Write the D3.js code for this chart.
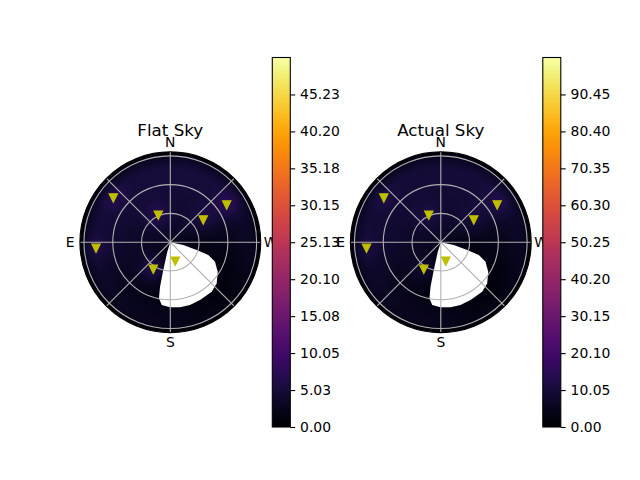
<!DOCTYPE html>
<html><head><meta charset="utf-8">
<script src="https://cdn.jsdelivr.net/npm/d3@7"></script>
<style>body{margin:0;background:#fff}svg{display:block}text{font-family:"DejaVu Sans",sans-serif;fill:#000}</style>
</head><body>
<svg id="chart" width="640" height="480"></svg>
<script>
// ---------------- data ----------------
const panelTitles = ["Flat Sky", "Actual Sky"];
const compassLabels = ["N", "E", "S", "W"];
const compassAz = [0, 90, 180, 270];
const spokeAz = [0, 45, 90, 135, 180, 225, 270, 315];
const ringZen = [0.5, 1.0, 1.5];
const zenMax = Math.PI / 2;

// marker positions (azimuth deg, zenith rad)
const markerAz  = [52.2, 24.0, 304.0, 303.4, 94.7, 147.9, 194.7];
const markerZen = [1.253, 0.512, 0.691, 1.174, 1.295, 0.556, 0.343];

// masked (no data) region boundary
const maskAz  = [0, 257.8, 253.5, 251.4, 246.4, 238.1, 228.5, 219.9, 207.2, 197.4, 188.5, 179.7, 172.2, 168.6, 167.0, 165.9, 162.5];
const maskZen = [0, 0.231, 0.478, 0.697, 0.848, 0.970, 1.077, 1.121, 1.129, 1.143, 1.143, 1.131, 1.101, 0.994, 0.794, 0.498, 0.173];

// coarse sky field (rows: azimuth gridAz, cols: zenith gridZen)
const gridAz  = [0, 45, 90, 135, 180, 225, 270, 315];
const gridZen = [0, 0.5, 1.0, 1.3, 1.45, 1.571];
const flatField = [
  [3.0, 4.0, 5.0, 5.0, 3.5, 0.3],
  [3.0, 4.2, 5.0, 5.0, 3.5, 0.3],
  [2.5, 3.5, 4.2, 4.8, 3.5, 0.3],
  [2.0, 2.5, 2.5, 3.0, 2.8, 0.3],
  [1.2, 1.2, 1.5, 2.5, 2.5, 0.3],
  [1.0, 0.8, 0.8, 1.2, 1.8, 0.3],
  [2.0, 2.0, 2.2, 3.0, 3.0, 0.3],
  [3.0, 4.0, 4.8, 5.0, 3.5, 0.3]
];
const actualField = [
  [6.5, 8.5, 9.5, 9.5, 7.0, 0.6],
  [6.5, 8.5, 9.5, 9.5, 7.0, 0.6],
  [5.5, 7.0, 8.5, 9.5, 7.0, 0.6],
  [4.0, 5.0, 5.0, 6.0, 5.5, 0.6],
  [2.5, 2.5, 3.0, 5.0, 5.0, 0.6],
  [2.0, 1.6, 1.6, 2.4, 3.6, 0.6],
  [4.0, 4.0, 4.4, 6.0, 6.0, 0.6],
  [6.0, 8.0, 9.5, 10.0, 7.5, 0.6]
];
// extra brightness around each marker
const flatGlow   = [1.5, 2.5, 2.0, 3.0, 1.5, 4.0, 1.0];
const actualGlow = [2.0, 3.0, 2.5, 4.0, 2.0, 4.0, 1.5];

const flatMax = 50.253, actualMax = 100.506;
const flatTicks = [0, 5.0253, 10.0506, 15.0759, 20.1012, 25.1265, 30.1518, 35.1771, 40.2024, 45.2277];
const flatTickLabels = ["0.00","5.03","10.05","15.08","20.10","25.13","30.15","35.18","40.20","45.23"];
const actualTicks = [0, 10.0506, 20.1012, 30.1518, 40.2024, 50.253, 60.3036, 70.3542, 80.4048, 90.4554];
const actualTickLabels = ["0.00","10.05","20.10","30.15","40.20","50.25","60.30","70.35","80.40","90.45"];

// ---------------- layout ----------------
const panels = [
  {title: panelTitles[0], cx: 170.3, cy: 242.2, field: flatField, glow: flatGlow, vmax: flatMax, ticks: flatTicks, labels: flatTickLabels, cbx: 272.3},
  {title: panelTitles[1], cx: 440.8, cy: 242.2, field: actualField, glow: actualGlow, vmax: actualMax, ticks: actualTicks, labels: actualTickLabels, cbx: 542.8}
];
const R = 90.4, cbW = 18, cbTop = 57.5, cbBot = 427;
const glowSigma = 0.16;

const svg = d3.select("#chart");
const defs = svg.append("defs");

function fieldValue(field, glow, az, zen) {
  const a = ((az % 360) + 360) % 360;
  const i0 = Math.floor(a / 45) % 8, i1 = (i0 + 1) % 8;
  const fa = (a - i0 * 45) / 45;
  let j = 0;
  while (j < gridZen.length - 2 && zen > gridZen[j + 1]) j++;
  const fz = Math.max(0, Math.min(1, (zen - gridZen[j]) / (gridZen[j + 1] - gridZen[j])));
  const v0 = field[i0][j] * (1 - fz) + field[i0][j + 1] * fz;
  const v1 = field[i1][j] * (1 - fz) + field[i1][j + 1] * fz;
  let v = v0 * (1 - fa) + v1 * fa;
  const x = -zen * Math.sin(a * Math.PI / 180), y = -zen * Math.cos(a * Math.PI / 180);
  for (let k = 0; k < markerAz.length; k++) {
    const ma = markerAz[k] * Math.PI / 180;
    const mx = -markerZen[k] * Math.sin(ma), my = -markerZen[k] * Math.cos(ma);
    const d2 = (x - mx) ** 2 + (y - my) ** 2;
    v += glow[k] * Math.exp(-d2 / (2 * glowSigma * glowSigma));
  }
  return v;
}

panels.forEach((p, pi) => {
  const color = d3.scaleSequential(d3.interpolateInferno).domain([0, p.vmax]);
  const rScale = d3.scaleLinear().domain([0, zenMax]).range([0, R]);
  const proj = (az, zen) => {
    const a = az * Math.PI / 180, r = rScale(zen);
    return [p.cx - r * Math.sin(a), p.cy - r * Math.cos(a)];
  };
  const g = svg.append("g");

  // heatmap raster
  const N = Math.ceil(2 * R);
  const canvas = document.createElement("canvas");
  canvas.width = N; canvas.height = N;
  const ctx = canvas.getContext("2d");
  const img = ctx.createImageData(N, N);
  for (let py = 0; py < N; py++) {
    for (let px = 0; px < N; px++) {
      const x = px + 0.5 - N / 2, y = py + 0.5 - N / 2;
      const r = Math.sqrt(x * x + y * y);
      if (r > R + 1) continue;
      const zen = rScale.invert(Math.min(r, R));
      const az = Math.atan2(-x, -y) * 180 / Math.PI;
      const c = d3.rgb(color(fieldValue(p.field, p.glow, az, zen)));
      const idx = (py * N + px) * 4;
      img.data[idx] = c.r; img.data[idx + 1] = c.g; img.data[idx + 2] = c.b; img.data[idx + 3] = 255;
    }
  }
  ctx.putImageData(img, 0, 0);
  const clipId = "clip" + pi;
  defs.append("clipPath").attr("id", clipId).append("circle").attr("cx", p.cx).attr("cy", p.cy).attr("r", R);
  g.append("image").attr("href", canvas.toDataURL())
    .attr("x", p.cx - N / 2).attr("y", p.cy - N / 2).attr("width", N).attr("height", N)
    .attr("clip-path", `url(#${clipId})`);

  // masked region
  const maskPts = maskAz.map((a, i) => proj(a, maskZen[i]));
  g.append("path").attr("d", d3.line().curve(d3.curveLinearClosed)(maskPts)).attr("fill", "#fff");

  // grid
  g.selectAll(".ring").data(ringZen).join("circle")
    .attr("cx", p.cx).attr("cy", p.cy).attr("r", d => rScale(d))
    .attr("fill", "none").attr("stroke", "#b0b0b0").attr("stroke-width", 1.1);
  g.selectAll(".spoke").data(spokeAz).join("line")
    .attr("x1", p.cx).attr("y1", p.cy)
    .attr("x2", d => proj(d, zenMax)[0]).attr("y2", d => proj(d, zenMax)[1])
    .attr("stroke", "#b0b0b0").attr("stroke-width", 1.1);
  g.append("circle").attr("cx", p.cx).attr("cy", p.cy).attr("r", R)
    .attr("fill", "none").attr("stroke", "#000").attr("stroke-width", 1.1);

  // markers
  const s = 4.17;
  g.selectAll(".mk").data(markerAz.map((a, i) => proj(a, markerZen[i]))).join("path")
    .attr("d", d => `M${d[0]},${d[1] + s}L${d[0] - s},${d[1] - s}L${d[0] + s},${d[1] - s}Z`)
    .attr("fill", "#bfbf00").attr("stroke", "#bfbf00").attr("stroke-width", 1.2).attr("stroke-linejoin", "miter");

  // compass labels
  compassLabels.forEach((lab, i) => {
    const a = compassAz[i] * Math.PI / 180, rr = R + 9.8;
    g.append("text").attr("x", p.cx - rr * Math.sin(a)).attr("y", p.cy - rr * Math.cos(a) + 0.365 * 13.9)
      .attr("text-anchor", "middle").attr("font-size", 13.9).text(lab);
  });

  // title
  g.append("text").attr("x", p.cx).attr("y", 136).attr("text-anchor", "middle").attr("font-size", 16.7).text(p.title);

  // colorbar
  const gradId = "grad" + pi;
  const grad = defs.append("linearGradient").attr("id", gradId).attr("x1", 0).attr("y1", 1).attr("x2", 0).attr("y2", 0);
  d3.range(0, 1.0001, 0.02).forEach(t => grad.append("stop").attr("offset", t).attr("stop-color", d3.interpolateInferno(t)));
  const cb = svg.append("g");
  cb.append("rect").attr("x", p.cbx).attr("y", cbTop).attr("width", cbW).attr("height", cbBot - cbTop)
    .attr("fill", "#fff");
  cb.append("rect").attr("x", p.cbx).attr("y", cbTop).attr("width", cbW).attr("height", cbBot - cbTop)
    .attr("fill", `url(#${gradId})`).attr("stroke", "#000").attr("stroke-width", 1.1);
  const yScale = d3.scaleLinear().domain([0, p.vmax]).range([cbBot, cbTop]);
  const axis = d3.axisRight(yScale).tickValues(p.ticks).tickFormat((d, i) => p.labels[i])
    .tickSizeOuter(0).tickSizeInner(4.9).tickPadding(4.9);
  const ax = cb.append("g").attr("transform", `translate(${p.cbx + cbW},0)`).call(axis);
  ax.select(".domain").remove();
  ax.selectAll("line").attr("stroke", "#000").attr("stroke-width", 1.1);
  ax.selectAll("text").attr("font-size", 13.9).attr("font-family", "DejaVu Sans").attr("fill", "#000");
});
</script>
</body></html>
